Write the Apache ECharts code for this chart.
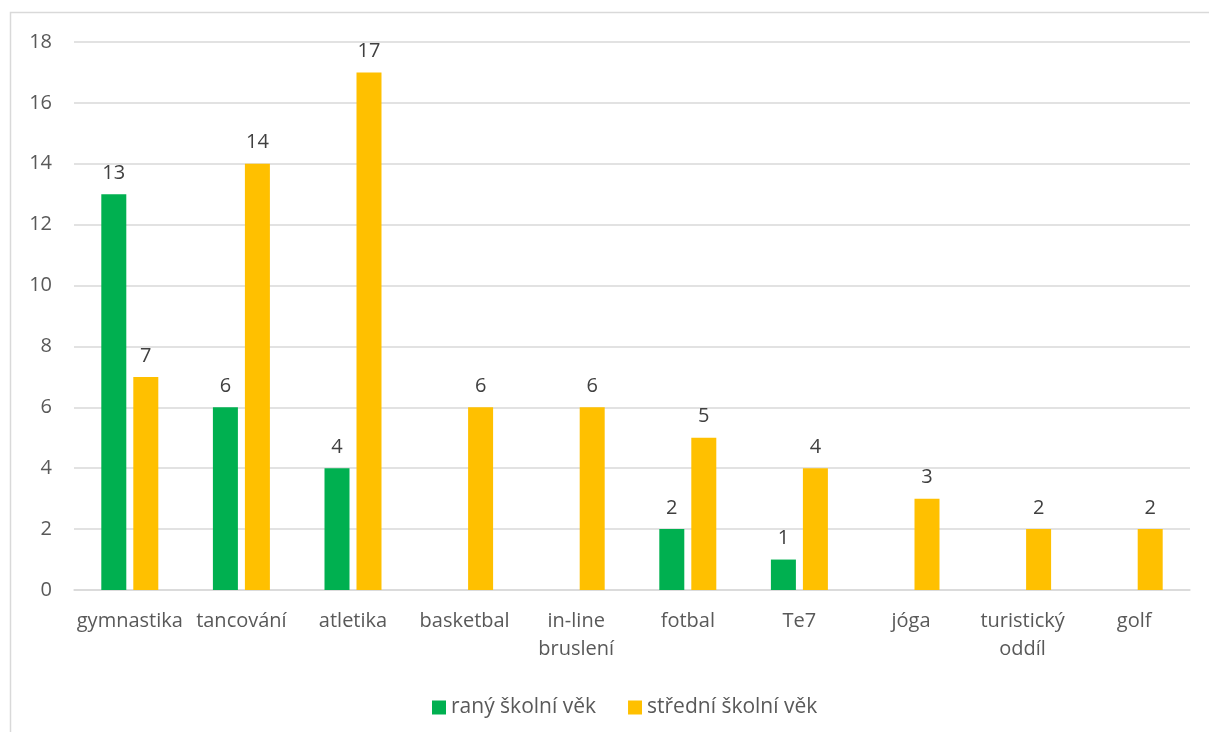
<!DOCTYPE html>
<html><head><meta charset="utf-8">
<script src="https://cdn.jsdelivr.net/npm/echarts@6/dist/echarts.min.js"></script>
<style>html,body{margin:0;padding:0;background:#fff}#c{width:1209px;height:732px}</style>
</head><body><div id="c"></div>
<script>
const categories = ['gymnastika','tancování','atletika','basketbal','in-line\nbruslení','fotbal','Te7','jóga','turistický\noddíl','golf'];
const seriesNames = ['raný školní věk','střední školní věk'];
const ranyValues = [13, 6, 4, null, null, 2, 1, null, null, null];
const stredniValues = [7, 14, 17, 6, 6, 5, 4, 3, 2, 2];
const yTicks = {min: 0, max: 18, interval: 2};

const font = '"Open Sans", "Liberation Sans", sans-serif';
const chart = echarts.init(document.getElementById('c'));
const labelCfg = {show: true, position: 'top', distance: 11, color: '#404040', fontSize: 20, fontFamily: font};
chart.setOption({
  animation: false,
  graphic: [{type: 'rect', shape: {x: 10.5, y: 12.5, width: 1300, height: 800}, style: {fill: 'none', stroke: '#d9d9d9', lineWidth: 1.5}, silent: true}],
  grid: {left: 74, right: 19, top: 42, bottom: 142, containLabel: false},
  legend: {
    top: 692, left: 427, itemWidth: 14, itemHeight: 14, itemGap: 32,
    icon: 'rect',
    textStyle: {color: '#595959', fontSize: 21, fontFamily: font},
    data: seriesNames
  },
  xAxis: {
    type: 'category', data: categories,
    axisLine: {lineStyle: {color: '#d9d9d9', width: 1.5}},
    axisTick: {show: false},
    axisLabel: {color: '#595959', fontSize: 20, fontFamily: font, margin: 17, lineHeight: 28, interval: 0}
  },
  yAxis: {
    type: 'value', min: yTicks.min, max: yTicks.max, interval: yTicks.interval,
    axisLine: {show: false}, axisTick: {show: false},
    splitLine: {lineStyle: {color: '#d9d9d9', width: 1.5}},
    axisLabel: {color: '#595959', fontSize: 20, fontFamily: font, margin: 22}
  },
  series: [
    {name: seriesNames[0], type: 'bar', data: ranyValues, itemStyle: {color: '#00B050'}, barWidth: '22.4%', barGap: '28%', label: labelCfg},
    {name: seriesNames[1], type: 'bar', data: stredniValues, itemStyle: {color: '#FFC000'}, barWidth: '22.4%', barGap: '28%', label: labelCfg}
  ]
});
</script></body></html>
